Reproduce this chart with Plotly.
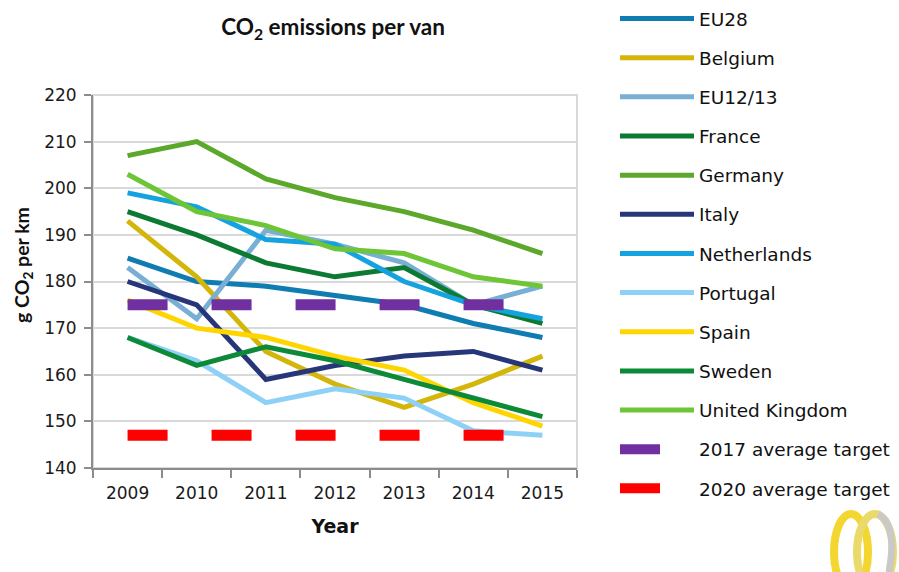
import plotly.graph_objects as go

years = ["2009", "2010", "2011", "2012", "2013", "2014", "2015"]
eu28 = [185, 180, 179, 177, 175, 171, 168]
belgium = [193, 181, 165, 158, 153, 158, 164]
eu1213 = [183, 172, 191, 188, 184, 175, 179]
france = [195, 190, 184, 181, 183, 175, 171]
germany = [207, 210, 202, 198, 195, 191, 186]
italy = [180, 175, 159, 162, 164, 165, 161]
netherlands = [199, 196, 189, 188, 180, 175, 172]
portugal = [168, 163, 154, 157, 155, 148, 147]
spain = [176, 170, 168, 164, 161, 154, 149]
sweden = [168, 162, 166, 163, 159, 155, 151]
uk = [203, 195, 192, 187, 186, 181, 179]
target_2017 = 175
target_2020 = 147
y_ticks = [140, 150, 160, 170, 180, 190, 200, 210, 220]

series = [
    ("EU28", eu28, "#0F7DB2"),
    ("Belgium", belgium, "#D4B50A"),
    ("EU12/13", eu1213, "#79AFD5"),
    ("France", france, "#0C7A32"),
    ("Germany", germany, "#5BA82B"),
    ("Italy", italy, "#263679"),
    ("Netherlands", netherlands, "#14A3DF"),
    ("Portugal", portugal, "#8ED1F6"),
    ("Spain", spain, "#FFD500"),
    ("Sweden", sweden, "#0D8A38"),
    ("United Kingdom", uk, "#6DC537"),
]

W, H = 899, 572
ML, MR, MT, MB = 93, 322, 95, 104
PW, PH = W - ML - MR, H - MT - MB


def px_x(px):
    return (px - ML) / PW


def px_y(py):
    return (H - MB - py) / PH


fig = go.Figure()
for name, vals, col in series:
    fig.add_trace(go.Scatter(
        x=years, y=vals, name=name, mode="lines",
        line=dict(color=col, width=5),
        legendgroup=name,
    ))

fig.add_trace(go.Scatter(
    x=years, y=[target_2017] * len(years), name="2017 average target", mode="lines",
    line=dict(color="#7030A0", width=11, dash="40px,44px"),
    legendgroup="t17",
))
fig.add_trace(go.Scatter(
    x=years, y=[target_2020] * len(years), name="2020 average target", mode="lines",
    line=dict(color="#FF0000", width=11, dash="40px,44px"),
    legendgroup="t20",
))

tick_font = dict(family="DejaVu Sans", size=17, color="#1a1a1a")

logo_shapes = [
    dict(type="circle", xref="paper", yref="paper",
         x0=px_x(834), x1=px_x(868), y0=px_y(590), y1=px_y(514),
         line=dict(color="#F3D630", width=8), layer="above"),
    dict(type="circle", xref="paper", yref="paper",
         x0=px_x(857), x1=px_x(893), y0=px_y(590), y1=px_y(514),
         line=dict(color="#E9DA6A", width=8), layer="above"),
    dict(type="path", xref="paper", yref="paper",
         path="M {} {} C {} {} {} {} {} {}".format(
             px_x(878), px_y(514), px_x(893), px_y(522), px_x(894), px_y(545),
             px_x(889), px_y(572)),
         line=dict(color="#C9C9C9", width=7), layer="above"),
]

fig.update_layout(
    width=W, height=H,
    margin=dict(l=ML, r=MR, t=MT, b=MB),
    paper_bgcolor="white", plot_bgcolor="white",
    title=dict(text="CO<sub>2</sub> emissions per van", x=0.496, xref="paper",
               y=1 - 27 / H, yref="container", yanchor="middle", xanchor="center",
               font=dict(family="Lato", size=22.5, color="#111", weight="bold")),
    showlegend=True,
    legend=dict(xref="container", x=615 / W, xanchor="left",
                yref="container", y=1.0, yanchor="top",
                font=dict(family="DejaVu Sans", size=18.5, color="#111"),
                tracegroupgap=12.1, itemwidth=74, bgcolor="rgba(0,0,0,0)",
                traceorder="grouped", maxheight=H),
    xaxis=dict(type="category", categoryorder="array", categoryarray=years,
               range=[-0.5, 6.5], autorange=False,
               tickfont=tick_font, showgrid=False, showline=True, linecolor="#8c8c8c",
               linewidth=2, ticks="outside", tickson="boundaries", ticklen=8,
               tickcolor="#8c8c8c", tickwidth=2, ticklabelstandoff=9,
               title=dict(text="Year", font=dict(family="DejaVu Sans", size=19,
                                                color="#111", weight="bold"),
                          standoff=17)),
    yaxis=dict(range=[140, 220], autorange=False, tickvals=y_ticks, tickfont=tick_font,
               showgrid=True, gridcolor="#d9d9d9", gridwidth=1.5,
               showline=True, linecolor="#8c8c8c", linewidth=2, ticks="outside",
               ticklen=7, tickcolor="#8c8c8c", tickwidth=2, zeroline=False,
               ticklabelstandoff=4),
    annotations=[dict(text="g CO<sub>2</sub> per km", textangle=-90, showarrow=False,
                      xref="paper", yref="paper", x=px_x(23), y=px_y(265),
                      xanchor="center", yanchor="middle",
                      font=dict(family="Lato", size=19.5, color="#111", weight="bold"))],
    shapes=[dict(type="rect", xref="paper", yref="paper", x0=0, x1=1, y0=0, y1=1,
                 line=dict(color="#d9d9d9", width=2), layer="below")] + logo_shapes,
)

fig.write_html("out.html", config={"displayModeBar": False},
               post_script="document.body.style.margin='0';")
